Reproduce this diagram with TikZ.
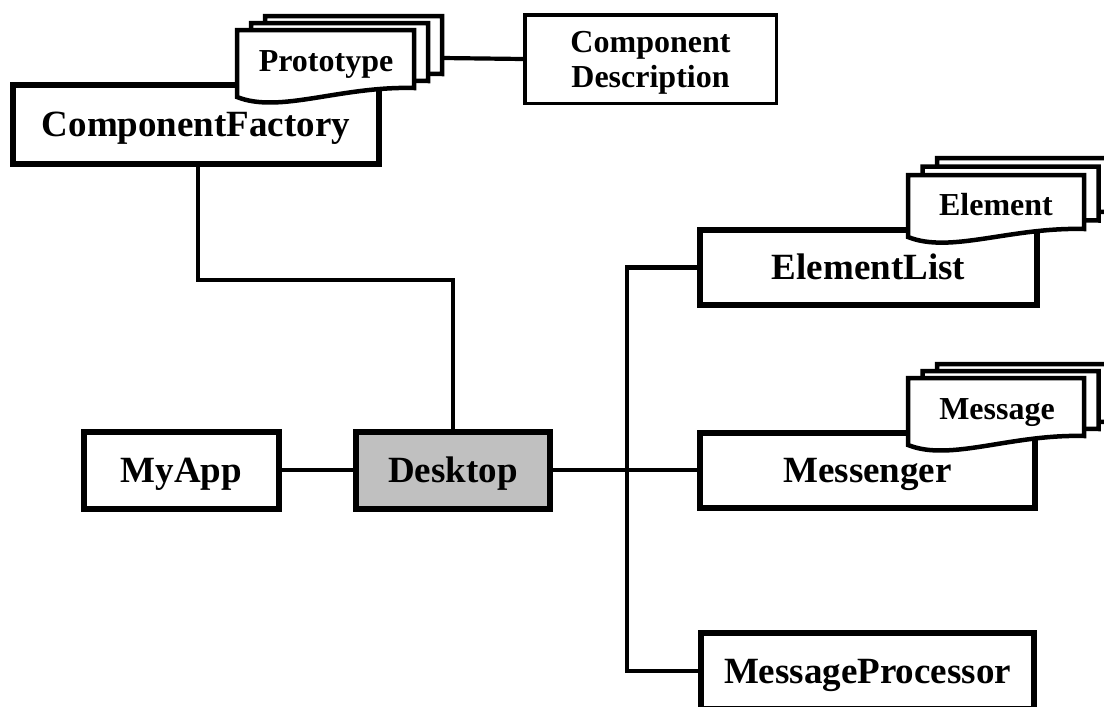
\documentclass[tikz,border=0pt]{standalone}
\usepackage{fontspec}
\setmainfont{Liberation Serif}
\tikzset{
  box/.style={draw, line width=6pt, fill=white, inner sep=0pt,
    font=\bfseries\fontsize{37}{40}\selectfont, text height=24.4pt, text depth=0pt},
  descbox/.style={draw, line width=3.5pt, fill=white, inner sep=0pt, align=center,
    font=\bfseries\fontsize{32}{35}\selectfont, text depth=0pt},
  sheet/.style={draw, line width=4.5pt, fill=white, line join=miter},
  sheetlabel/.style={inner sep=0pt, font=\bfseries\fontsize{32}{35}\selectfont,
    text height=21.1pt, text depth=0pt},
  link/.style={draw, line width=4.2pt},
}
% one sheet of a document stack: x0, top, x1, bottom-left y, bottom-right y
\newcommand\docsheet[5]{%
  \path[sheet] ({#1},{#2}) -- ({#3},{#2}) -- ({#3},{#5})
    .. controls ({(#1)+0.58*((#3)-(#1))},{(#5)-2}) and ({(#1)+0.24*((#3)-(#1))},{(#4)+17}) .. ({#1},{#4}) -- cycle;}
% three stacked sheets, drawn back to front; #6,#7 = offset between sheets
\newcommand\docstack[7]{%
  \docsheet{(#1)+2*(#6)}{(#2)+2*(#7)}{(#3)+2*(#6)}{(#4)+2*(#7)}{(#5)+2*(#7)}
  \docsheet{(#1)+(#6)}{(#2)+(#7)}{(#3)+(#6)}{(#4)+(#7)}{(#5)+(#7)}
  \docsheet{#1}{#2}{#3}{#4}{#5}}
\begin{document}
\begin{tikzpicture}[x=1pt, y=-1pt]
  \useasboundingbox (0,0) rectangle (1104,707);
  \fill[white] (0,0) rectangle (1104,707);
  \clip (0,0) rectangle (1104,707);

  % classes
  \node[box, minimum width=366pt, minimum height=79pt] (cf) at (196,124.5) {ComponentFactory};
  \node[descbox, minimum width=251.5pt, minimum height=88.5pt] (cd) at (650.5,59) {Component\\Description};
  \node[box, minimum width=195pt, minimum height=77pt] (app) at (181.5,470) {MyApp};
  \node[box, fill={rgb,255:red,192;green,192;blue,192}, minimum width=194pt, minimum height=77pt] (desk) at (453,470) {Desktop};
  \node[box, minimum width=337pt, minimum height=75pt] (el) at (868.5,267.5) {ElementList};
  \node[box, minimum width=335pt, minimum height=75pt] (msgr) at (867.5,470) {Messenger};
  \node[box, minimum width=333pt, minimum height=76pt] (mp) at (867.5,671) {MessageProcessor};

  % bend points of the connectors
  \coordinate (cfbend) at (198,280);
  \coordinate (trunk) at (627,470);
  \coordinate (protoedge) at (442,58);

  % connectors
  \draw[link] (cf.south -| cfbend) |- (cfbend) -| (desk.north);
  \draw[link] (app.east) -- (desk.west);
  \draw[link] (desk.east) -- (msgr.west);
  \draw[link] (el.west) -| (trunk) |- (mp.west);
  \draw[link] (protoedge) -- (cd.west);

  % aggregated document stacks
  \docstack{237}{30}{414}{97}{88}{14}{-7}
  \node[sheetlabel] (proto) at (326,61) {Prototype};
  \docstack{908}{175}{1084}{237}{229}{14.5}{-8.5}
  \node[sheetlabel] (elem) at (996,205) {Element};
  \docstack{908}{378}{1084}{445}{436}{14.5}{-7}
  \node[sheetlabel] (msg) at (997,409) {Message};
\end{tikzpicture}
\end{document}
